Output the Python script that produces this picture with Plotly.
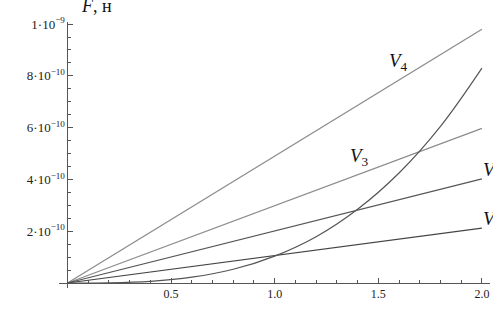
import plotly.graph_objects as go

# data
x_line = [0.0, 2.0]
V1 = [0.0, 2.12e-10]
V2 = [0.0, 4.02e-10]
V3 = [0.0, 5.97e-10]
V4 = [0.0, 9.80e-10]

x_curve = [0.0, 0.2, 0.4, 0.6, 0.8, 1.0, 1.2, 1.4, 1.6, 1.8, 2.0]
F_curve = [0.0, 0.008e-10, 0.066e-10, 0.224e-10, 0.53e-10, 1.04e-10,
           1.79e-10, 2.85e-10, 4.25e-10, 6.05e-10, 8.3e-10]

x_tickvals = [0.5, 1.0, 1.5, 2.0]
x_ticktext = ["0.5", "1.0", "1.5", "2.0"]
y_tickvals = [2e-10, 4e-10, 6e-10, 8e-10, 1e-9]
y_ticktext = ["2·10<sup>−10</sup>", "4·10<sup>−10</sup>", "6·10<sup>−10</sup>",
              "8·10<sup>−10</sup>", "1·10<sup>−9</sup>"]

labels = [("V", "4", 1.595, 0.855e-9, "center"),
          ("V", "3", 1.411, 0.487e-9, "center"),
          ("V", "2", 1.995, 0.432e-9, "left"),
          ("V", "1", 1.995, 0.245e-9, "left")]

SERIF = "Liberation Serif, DejaVu Serif, serif"

fig = go.Figure()
fig.add_trace(go.Scatter(x=x_line, y=V4, mode="lines", line=dict(color="#8c8c8c", width=1.3)))
fig.add_trace(go.Scatter(x=x_line, y=V3, mode="lines", line=dict(color="#8c8c8c", width=1.3)))
fig.add_trace(go.Scatter(x=x_line, y=V2, mode="lines", line=dict(color="#555555", width=1.2)))
fig.add_trace(go.Scatter(x=x_line, y=V1, mode="lines", line=dict(color="#444444", width=1.2)))
fig.add_trace(go.Scatter(x=x_curve, y=F_curve, mode="lines", line=dict(color="#555555", width=1.2, shape="spline")))

xmin, xmax = -0.041, 2.039
ymin, ymax = -0.0193e-9, 1.008e-9

for base, sub, xx, yy, anc in labels:
    fig.add_annotation(x=xx, y=yy, xref="x", yref="y", xanchor=anc, yanchor="middle",
                       text=f"<i>{base}</i><sub>{sub}</sub>", showarrow=False,
                       font=dict(family=SERIF, size=19, color="#111111"))

fig.add_annotation(x=0.0, y=1.0, xref="paper", yref="paper", xanchor="left", yanchor="bottom",
                   xshift=20, yshift=4,
                   text="<i>F</i>, н", showarrow=False,
                   font=dict(family=SERIF, size=18, color="#111111"))

fig.update_layout(
    width=493, height=309,
    margin=dict(l=59, r=3, t=22, b=21),
    paper_bgcolor="white", plot_bgcolor="white",
    showlegend=False,
    xaxis=dict(range=[xmin, xmax], showgrid=False, zeroline=False, automargin=False,
               showline=True, linecolor="#555555", linewidth=1,
               anchor="free", position=(0 - ymin) / (ymax - ymin),
               tickmode="array", tickvals=x_tickvals, ticktext=x_ticktext,
               ticks="inside", ticklen=5, tickcolor="#555555",
               minor=dict(dtick=0.1, tick0=0, ticks="inside", ticklen=3, tickcolor="#555555"),
               tickfont=dict(family=SERIF, size=12, color="#222222")),
    yaxis=dict(range=[ymin, ymax], showgrid=False, zeroline=False, automargin=False,
               showline=True, linecolor="#555555", linewidth=1,
               anchor="free", position=(0 - xmin) / (xmax - xmin),
               tickmode="array", tickvals=y_tickvals, ticktext=y_ticktext,
               ticks="inside", ticklen=5, tickcolor="#555555",
               minor=dict(dtick=0.5e-10, tick0=0, ticks="inside", ticklen=3, tickcolor="#555555"),
               tickfont=dict(family=SERIF, size=13, color="#222222")),
)

fig.write_html("out.html", config={"displayModeBar": False},
               post_script="document.body.style.margin='0';document.body.style.overflow='hidden';")
